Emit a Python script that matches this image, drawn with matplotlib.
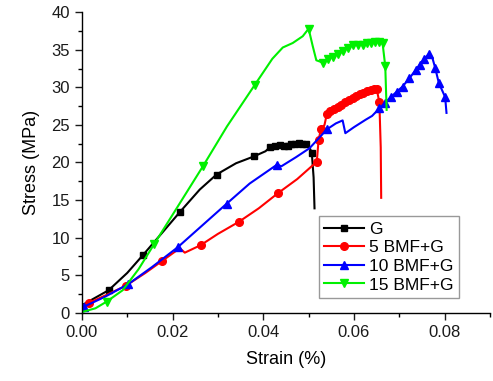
import numpy as np
import matplotlib.pyplot as plt
from matplotlib.ticker import MultipleLocator, FormatStrFormatter

plt.rcParams['font.family'] = ['Liberation Sans', 'DejaVu Sans']

# G
g_strain = [0, 0.0059, 0.010, 0.0135, 0.0175, 0.0216, 0.026, 0.0297, 0.034, 0.0379,
            0.0405, 0.0414, 0.0425, 0.0436, 0.0445, 0.0454, 0.0462, 0.047, 0.0478, 0.0486,
            0.0494, 0.0502, 0.0507, 0.0511, 0.0513]
g_stress = [1.0, 3.0, 5.3, 7.7, 10.5, 13.4, 16.4, 18.4, 19.9, 20.8,
            21.5, 22.0, 22.2, 22.3, 22.2, 22.2, 22.4, 22.5, 22.6, 22.5,
            22.4, 22.0, 21.3, 18.0, 13.9]
g_marks = [1, 3, 5, 7, 9] + list(range(11, 21)) + [22]

# 5 BMF+G
r_strain = [0, 0.0015, 0.0055, 0.0097, 0.014, 0.0177, 0.0216, 0.0227, 0.0262, 0.030,
            0.0346, 0.039, 0.0432, 0.0475, 0.0518, 0.0522, 0.0527, 0.0535, 0.054, 0.0548,
            0.0556, 0.0564, 0.0572, 0.058, 0.0588, 0.0597, 0.0605, 0.0613, 0.0621, 0.0629,
            0.0637, 0.0645, 0.065, 0.0656, 0.0659, 0.066]
r_stress = [0.9, 1.3, 2.4, 3.6, 5.3, 6.9, 8.6, 8.0, 9.0, 10.5,
            12.1, 13.9, 15.9, 17.8, 20.1, 23.0, 24.4, 25.0, 26.4, 26.8,
            27.1, 27.4, 27.7, 28.0, 28.3, 28.6, 28.9, 29.1, 29.3, 29.5,
            29.7, 29.8, 29.8, 28.0, 22.0, 15.3]
r_marks = [1, 3, 5, 8, 10, 12, 14, 15, 16] + list(range(18, 33)) + [33]

# 10 BMF+G
b_strain = [0, 0.0004, 0.005, 0.0102, 0.0155, 0.0211, 0.0265, 0.0319, 0.037, 0.043,
            0.044, 0.0472, 0.0502, 0.0525, 0.054, 0.056, 0.0575, 0.0581, 0.060, 0.0626,
            0.064, 0.0656, 0.0668, 0.0681, 0.0694, 0.0707, 0.0722, 0.0736, 0.0745, 0.0755,
            0.0766, 0.0773, 0.0779, 0.0787, 0.0801, 0.0804]
b_stress = [0.7, 0.8, 2.1, 3.8, 6.1, 8.7, 11.6, 14.5, 17.2, 19.7,
            19.5, 20.7, 21.9, 23.4, 24.4, 25.2, 25.6, 23.9, 24.7, 25.7,
            26.2, 27.2, 27.9, 28.7, 29.4, 30.1, 31.2, 32.3, 33.0, 33.8,
            34.5, 33.9, 32.6, 30.6, 28.7, 26.6]
b_marks = [1, 3, 5, 7, 9, 14] + list(range(21, 31)) + [32, 33, 34]

# 15 BMF+G
gr_strain = [0, 0.003, 0.0055, 0.009, 0.0125, 0.0159, 0.021, 0.0267, 0.032, 0.0381,
             0.042, 0.0443, 0.0465, 0.0487, 0.050, 0.0509, 0.0517, 0.0531, 0.0542, 0.0553,
             0.0564, 0.0575, 0.0586, 0.0597, 0.0608, 0.0619, 0.0628, 0.0637, 0.0646, 0.0656,
             0.0663, 0.0669, 0.0672]
gr_stress = [0.1, 0.6, 1.5, 3.0, 5.8, 9.1, 14.0, 19.5, 24.8, 30.3,
             33.8, 35.3, 35.9, 36.8, 37.8, 35.5, 33.6, 33.3, 33.8, 34.1,
             34.4, 34.8, 35.3, 35.7, 35.6, 35.7, 35.9, 35.9, 36.1, 36.0,
             35.9, 32.8, 27.0]
gr_marks = [2, 5, 7, 9, 14] + list(range(17, 31)) + [31]

fig = plt.figure(figsize=(4.93, 3.81), dpi=100)
ax = fig.add_axes([0.166, 0.179, 0.828, 0.789])

ax.plot(g_strain, g_stress, color='black', marker='s', ms=5, lw=1.5, markevery=g_marks, label='G')
ax.plot(r_strain, r_stress, color='red', marker='o', ms=5.5, lw=1.5, markevery=r_marks, label='5 BMF+G')
ax.plot(b_strain, b_stress, color='blue', marker='^', ms=6, lw=1.5, markevery=b_marks, label='10 BMF+G')
ax.plot(gr_strain, gr_stress, color='#00f000', marker='v', ms=6, lw=1.5, markevery=gr_marks, label='15 BMF+G')

ax.set_xlim(0, 0.09)
ax.set_ylim(0, 40)
ax.xaxis.set_major_locator(MultipleLocator(0.02))
ax.xaxis.set_minor_locator(MultipleLocator(0.01))
ax.xaxis.set_major_formatter(FormatStrFormatter('%.2f'))
ax.yaxis.set_major_locator(MultipleLocator(5))
ax.yaxis.set_minor_locator(MultipleLocator(2.5))
ax.spines['top'].set_visible(False)
ax.spines['right'].set_visible(False)
for s in ['left', 'bottom']:
    ax.spines[s].set_linewidth(1.0)
ax.tick_params(which='major', direction='out', length=5, width=1, labelsize=12, colors='#1a1a1a')
ax.tick_params(which='minor', direction='out', length=3, width=1)

ax.set_xlabel('Strain (%)', fontsize=13, labelpad=8)
ax.set_ylabel('Stress (MPa)', fontsize=13, labelpad=8)

leg = ax.legend(loc='lower left', bbox_to_anchor=(0.581, 0.05), borderaxespad=0, fontsize=12.5,
                fancybox=False, edgecolor='gray', handlelength=2.3,
                borderpad=0.3, labelspacing=0.2, handletextpad=0.3)
leg.get_frame().set_linewidth(1.0)

fig.savefig('out.png', dpi=100)
